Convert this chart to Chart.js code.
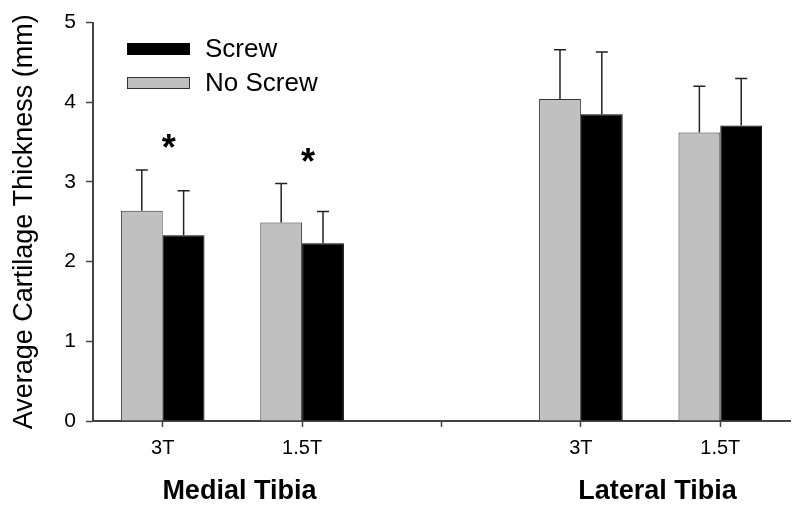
<!DOCTYPE html>
<html>
<head>
<meta charset="utf-8">
<script src="https://cdn.jsdelivr.net/npm/chart.js@4/dist/chart.umd.min.js"></script>
<style>
  html, body { margin: 0; padding: 0; background: #fff; }
  #wrap { width: 800px; height: 512px; }
</style>
</head>
<body>
<div id="wrap"><canvas id="chart"></canvas></div>
<script>
// Data
const categories = ["3T", "1.5T", "", "3T", "1.5T"];
const noScrewValues = [2.64, 2.49, null, 4.04, 3.62];
const noScrewErrors = [0.51, 0.49, null, 0.62, 0.58];
const screwValues = [2.33, 2.23, null, 3.85, 3.71];
const screwErrors = [0.56, 0.40, null, 0.78, 0.59];
const groupLabels = ["Medial Tibia", "Lateral Tibia"];
const groupCategories = [[0, 1], [3, 4]];
const starCategories = [0, 1];
const starValues = [3.5, 3.33];

const FONT = "Arial, 'Liberation Sans', sans-serif";

// upper error bars with caps
const errorBars = {
  id: "errorBars",
  afterDatasetsDraw(chart) {
    const ctx = chart.ctx;
    const y = chart.scales.y;
    ctx.save();
    ctx.strokeStyle = "#222";
    ctx.lineWidth = 1.5;
    chart.data.datasets.forEach((ds, i) => {
      const meta = chart.getDatasetMeta(i);
      meta.data.forEach((bar, j) => {
        if (ds.data[j] == null) return;
        const top = y.getPixelForValue(ds.data[j] + ds.errors[j]);
        ctx.beginPath();
        ctx.moveTo(bar.x, bar.y);
        ctx.lineTo(bar.x, top);
        ctx.moveTo(bar.x - 6, top);
        ctx.lineTo(bar.x + 6, top);
        ctx.stroke();
      });
    });
    ctx.restore();
  }
};

// legend inside the plot, screw first
const innerLegend = {
  id: "innerLegend",
  afterDraw(chart) {
    const ctx = chart.ctx;
    const order = [1, 0];
    ctx.save();
    ctx.font = "26px " + FONT;
    ctx.textBaseline = "middle";
    order.forEach((di, k) => {
      const ds = chart.data.datasets[di];
      const cy = 49 + k * 34;
      ctx.fillStyle = ds.backgroundColor;
      ctx.fillRect(127, cy - 6, 63, 12);
      ctx.strokeStyle = ds.borderColor;
      ctx.lineWidth = 1;
      ctx.strokeRect(127.5, cy - 5.5, 62, 11);
      ctx.fillStyle = "#000";
      ctx.fillText(ds.label, 205, cy + 1);
    });
    ctx.restore();
  }
};

// group names under the axis and significance stars
const annotations = {
  id: "annotations",
  afterDraw(chart) {
    const ctx = chart.ctx;
    const x = chart.scales.x;
    const y = chart.scales.y;
    ctx.save();
    ctx.fillStyle = "#000";
    ctx.textAlign = "center";
    ctx.textBaseline = "middle";
    ctx.font = "bold 27px " + FONT;
    groupLabels.forEach((lab, i) => {
      const [a, b] = groupCategories[i];
      const cx = (x.getPixelForValue(a) + x.getPixelForValue(b)) / 2 + 7;
      ctx.fillText(lab, cx, 492);
    });
    ctx.font = "bold 36px " + FONT;
    starCategories.forEach((c, i) => {
      ctx.fillText("*", x.getPixelForValue(c) + 6, y.getPixelForValue(starValues[i]) + 8);
    });
    ctx.restore();
  }
};

new Chart(document.getElementById("chart"), {
  type: "bar",
  data: {
    labels: categories,
    datasets: [
      {
        label: "No Screw",
        data: noScrewValues,
        errors: noScrewErrors,
        backgroundColor: "#c0c0c0",
        borderColor: "#333",
        borderWidth: 1
      },
      {
        label: "Screw",
        data: screwValues,
        errors: screwErrors,
        backgroundColor: "#000",
        borderColor: "#000",
        borderWidth: 1
      }
    ]
  },
  options: {
    responsive: true,
    maintainAspectRatio: false,
    animation: false,
    categoryPercentage: 0.6,
    barPercentage: 1.0,
    layout: { padding: { top: 22, right: 10 } },
    plugins: {
      legend: { display: false },
      tooltip: { enabled: false }
    },
    scales: {
      x: {
        grid: { offset: false, drawOnChartArea: false, tickLength: 6, color: "#444", tickWidth: 1.5 },
        border: { color: "#444", width: 2 },
        ticks: { color: "#000", font: { family: FONT, size: 20 }, padding: 9 },
        afterFit(s) { s.height = 91; }
      },
      y: {
        min: 0,
        max: 5,
        ticks: { stepSize: 1, color: "#000", font: { family: FONT, size: 21 }, padding: 10 },
        grid: { drawOnChartArea: false, tickLength: 7, color: "#444", tickWidth: 1.5 },
        border: { color: "#444", width: 2 },
        title: {
          display: true,
          text: "Average Cartilage Thickness (mm)",
          color: "#000",
          font: { family: FONT, size: 27 },
          padding: { top: 8, bottom: 0 }
        },
        afterFit(s) { s.width = 93; }
      }
    }
  },
  plugins: [errorBars, innerLegend, annotations]
});
</script>
</body>
</html>
